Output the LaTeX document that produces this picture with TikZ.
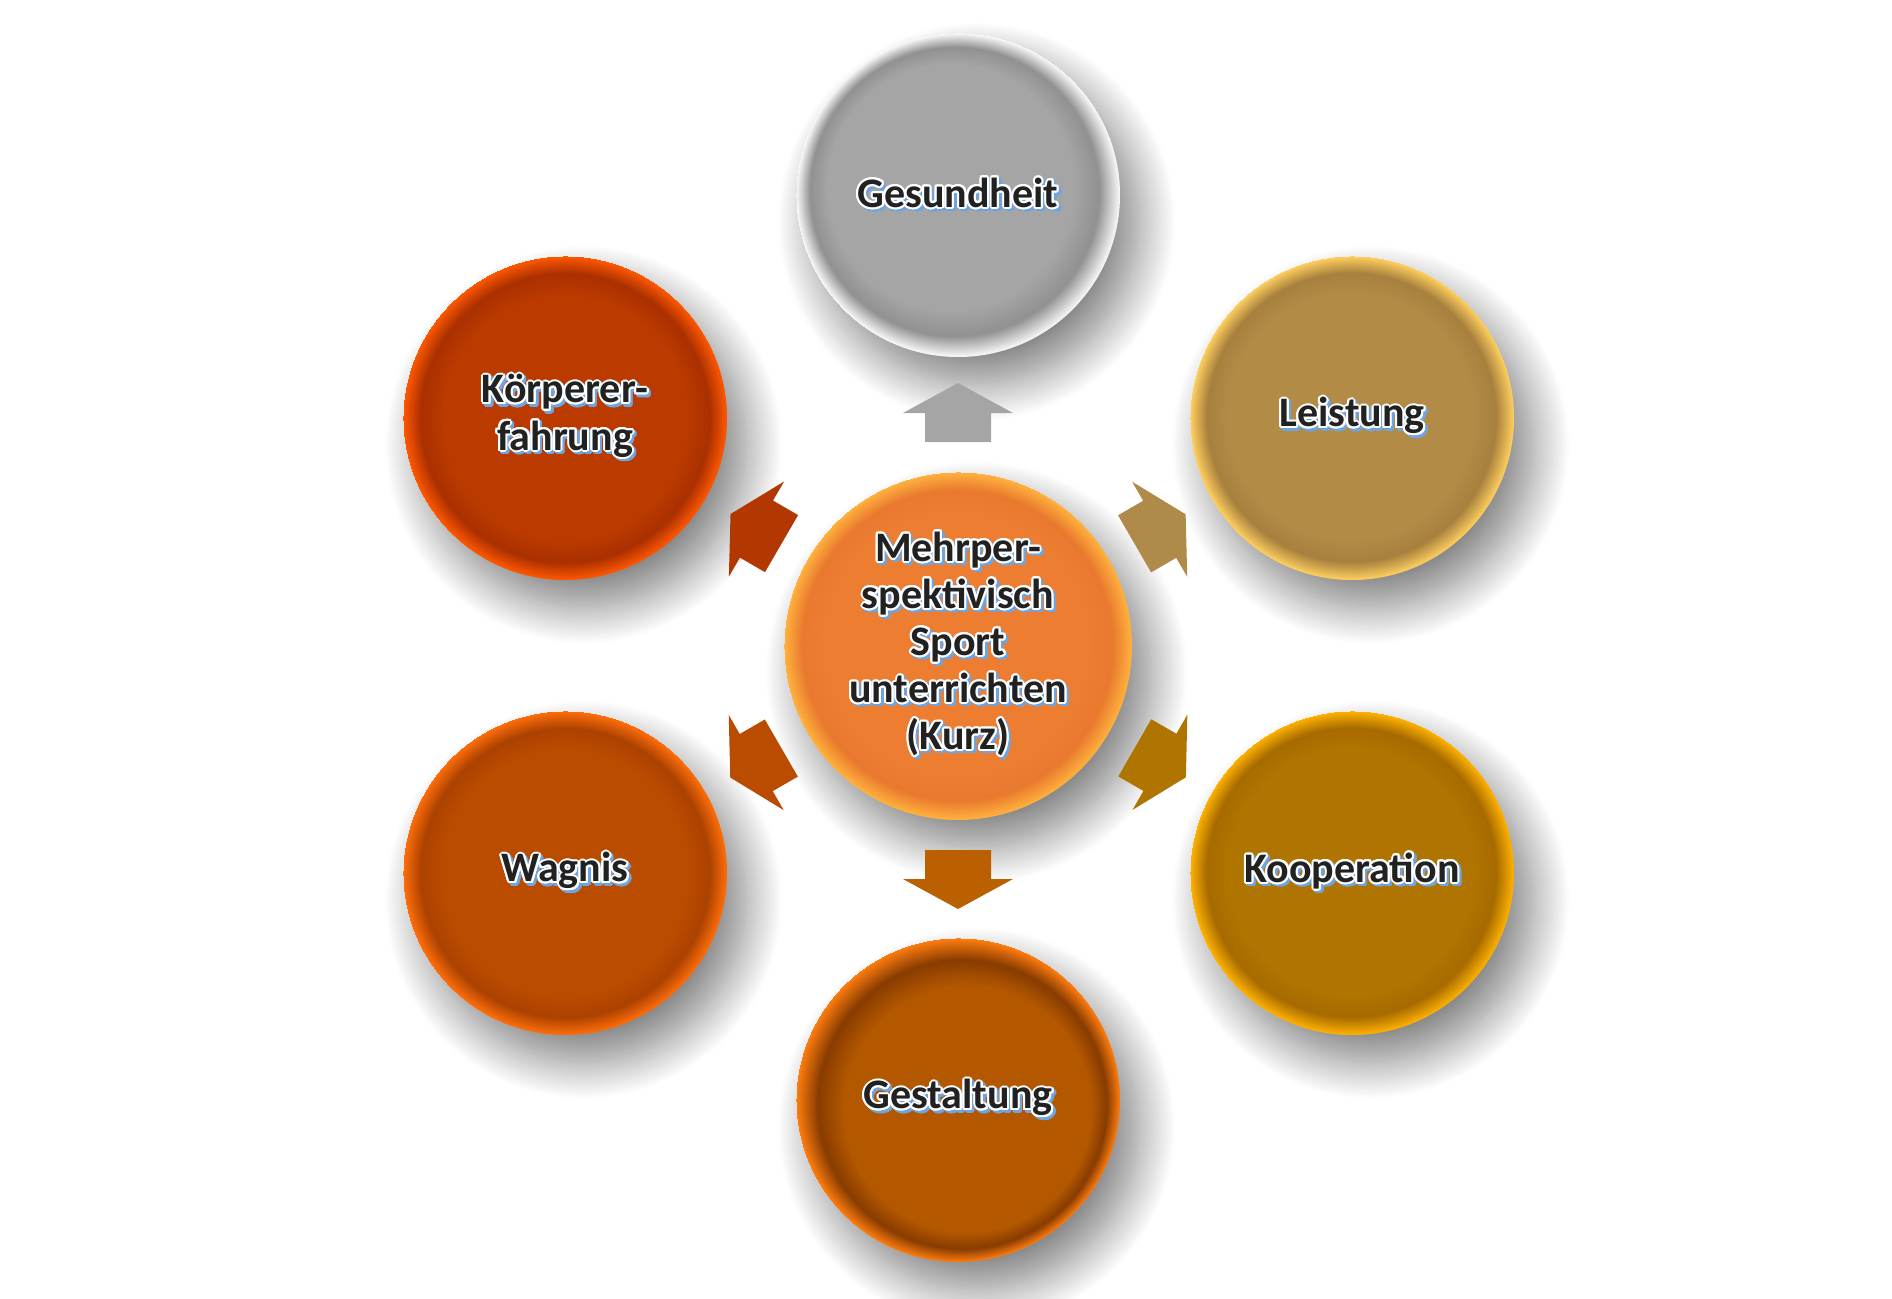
\documentclass[tikz,border=0pt]{standalone}
\usepackage{fontspec}
\setmainfont{Carlito}
\usepackage{contour}
\usetikzlibrary{calc,shadows.blur}

\contourlength{1.5pt}
\contournumber{16}

\definecolor{txtdark}{RGB}{33,33,33}
\definecolor{lblue}{RGB}{110,165,225}

\definecolor{gesbase}{RGB}{165,165,165}
\definecolor{gesdark}{RGB}{145,145,145}
\definecolor{gesrim}{RGB}{250,250,250}
\definecolor{leibase}{RGB}{178,139,71}
\definecolor{leidark}{RGB}{168,128,62}
\definecolor{leirim}{RGB}{255,208,95}
\definecolor{koobase}{RGB}{176,116,0}
\definecolor{koodark}{RGB}{166,106,0}
\definecolor{koorim}{RGB}{255,178,0}
\definecolor{gstbase}{RGB}{180,88,0}
\definecolor{gstdark}{RGB}{136,60,0}
\definecolor{gstrim}{RGB}{255,125,15}
\definecolor{wagbase}{RGB}{186,76,0}
\definecolor{wagdark}{RGB}{172,66,0}
\definecolor{wagrim}{RGB}{255,110,10}
\definecolor{koebase}{RGB}{186,58,0}
\definecolor{koedark}{RGB}{170,48,0}
\definecolor{koerim}{RGB}{255,88,0}
\definecolor{midbase}{RGB}{237,125,49}
\definecolor{middark}{RGB}{233,121,46}
\definecolor{midrim}{RGB}{255,178,62}

\definecolor{arrges}{RGB}{165,165,165}
\definecolor{arrlei}{RGB}{176,138,72}
\definecolor{arrkoo}{RGB}{176,116,0}
\definecolor{arrgst}{RGB}{186,96,0}
\definecolor{arrwag}{RGB}{186,76,0}
\definecolor{arrkoe}{RGB}{178,55,0}

% radial fill with a bright rim
\newcommand{\ballshade}[5]{%
  \pgfdeclareradialshading{#1}{#2}{color(0bp)=(#3); color(19bp)=(#3); color(22.3bp)=(#4); color(25bp)=(#5)}}
\ballshade{gesshade}{\pgfpoint{-5bp}{5bp}}{gesbase}{gesdark}{gesrim}
\ballshade{leishade}{\pgfpoint{-1bp}{1bp}}{leibase}{leidark}{leirim}
\ballshade{kooshade}{\pgfpoint{-1bp}{1bp}}{koobase}{koodark}{koorim}
\ballshade{gstshade}{\pgfpoint{6bp}{-6bp}}{gstbase}{gstdark}{gstrim}
\ballshade{wagshade}{\pgfpoint{0bp}{0bp}}{wagbase}{wagdark}{wagrim}
\ballshade{koeshade}{\pgfpoint{0bp}{0bp}}{koebase}{koedark}{koerim}
\ballshade{midshade}{\pgfpoint{-1bp}{1bp}}{midbase}{middark}{midrim}

% outlined label with a blue shadow
\newcommand{\lbl}[1]{\makebox[0pt][l]{\kern1.8pt\raisebox{-1.8pt}{\contour{lblue}{\textcolor{lblue}{#1}}}}\contour{white}{#1}}

% block arrow from node #1 towards node #2
\newcommand{\blockarrow}[3]{%
  \fill[#3] ($(#1)!153pt!(#2)!24.75pt!90:(#2)$) -- ($(#1)!174.75pt!(#2)!24.75pt!90:(#2)$)
    -- ($(#1)!174.75pt!(#2)!41.25pt!90:(#2)$) -- ($(#1)!197.25pt!(#2)$)
    -- ($(#1)!174.75pt!(#2)!41.25pt!-90:(#2)$) -- ($(#1)!174.75pt!(#2)!24.75pt!-90:(#2)$)
    -- ($(#1)!153pt!(#2)!24.75pt!-90:(#2)$) -- cycle;}

\tikzset{
  ball/.style={circle, draw=none, minimum size=243pt, inner sep=0pt, align=center,
    text=txtdark, font=\fontsize{31.5}{35.3}\selectfont\bfseries,
    blur shadow={shadow xshift=14pt, shadow yshift=-20pt, shadow blur radius=28pt,
      shadow blur steps=30, shadow opacity=50}}
}

\begin{document}
\begin{tikzpicture}[x=0.75pt,y=0.75pt,yscale=-1,xscale=1]
\useasboundingbox (0,0) rectangle (1892,1299);

% Circle Node
\node[ball, shading=gesshade] (ges) at (958,195) {\lbl{Gesundheit}};
% Circle Node
\node[ball, shading=leishade] (lei) at (1352,418) {\lbl{Leistung}};
% Circle Node
\node[ball, shading=kooshade] (koo) at (1352,873) {\lbl{Kooperation}};
% Circle Node
\node[ball, shading=gstshade] (gst) at (958,1100) {\lbl{Gestaltung}};
% Circle Node
\node[ball, shading=wagshade] (wag) at (565,873) {\lbl{Wagnis}};
% Circle Node
\node[ball, shading=koeshade] (koe) at (565,418) {\lbl{Körperer-}\\\lbl{fahrung}};
% Circle Node
\node[ball, minimum size=261pt, shading=midshade] (mid) at (958,646) {\lbl{Mehrper-}\\\lbl{spektivisch}\\\lbl{Sport}\\\lbl{unterrichten}\\\lbl{(Kurz)}};

% Block Arrows
\blockarrow{mid}{ges}{arrges}
\blockarrow{mid}{lei}{arrlei}
\blockarrow{mid}{koo}{arrkoo}
\blockarrow{mid}{gst}{arrgst}
\blockarrow{mid}{wag}{arrwag}
\blockarrow{mid}{koe}{arrkoe}

\end{tikzpicture}
\end{document}
